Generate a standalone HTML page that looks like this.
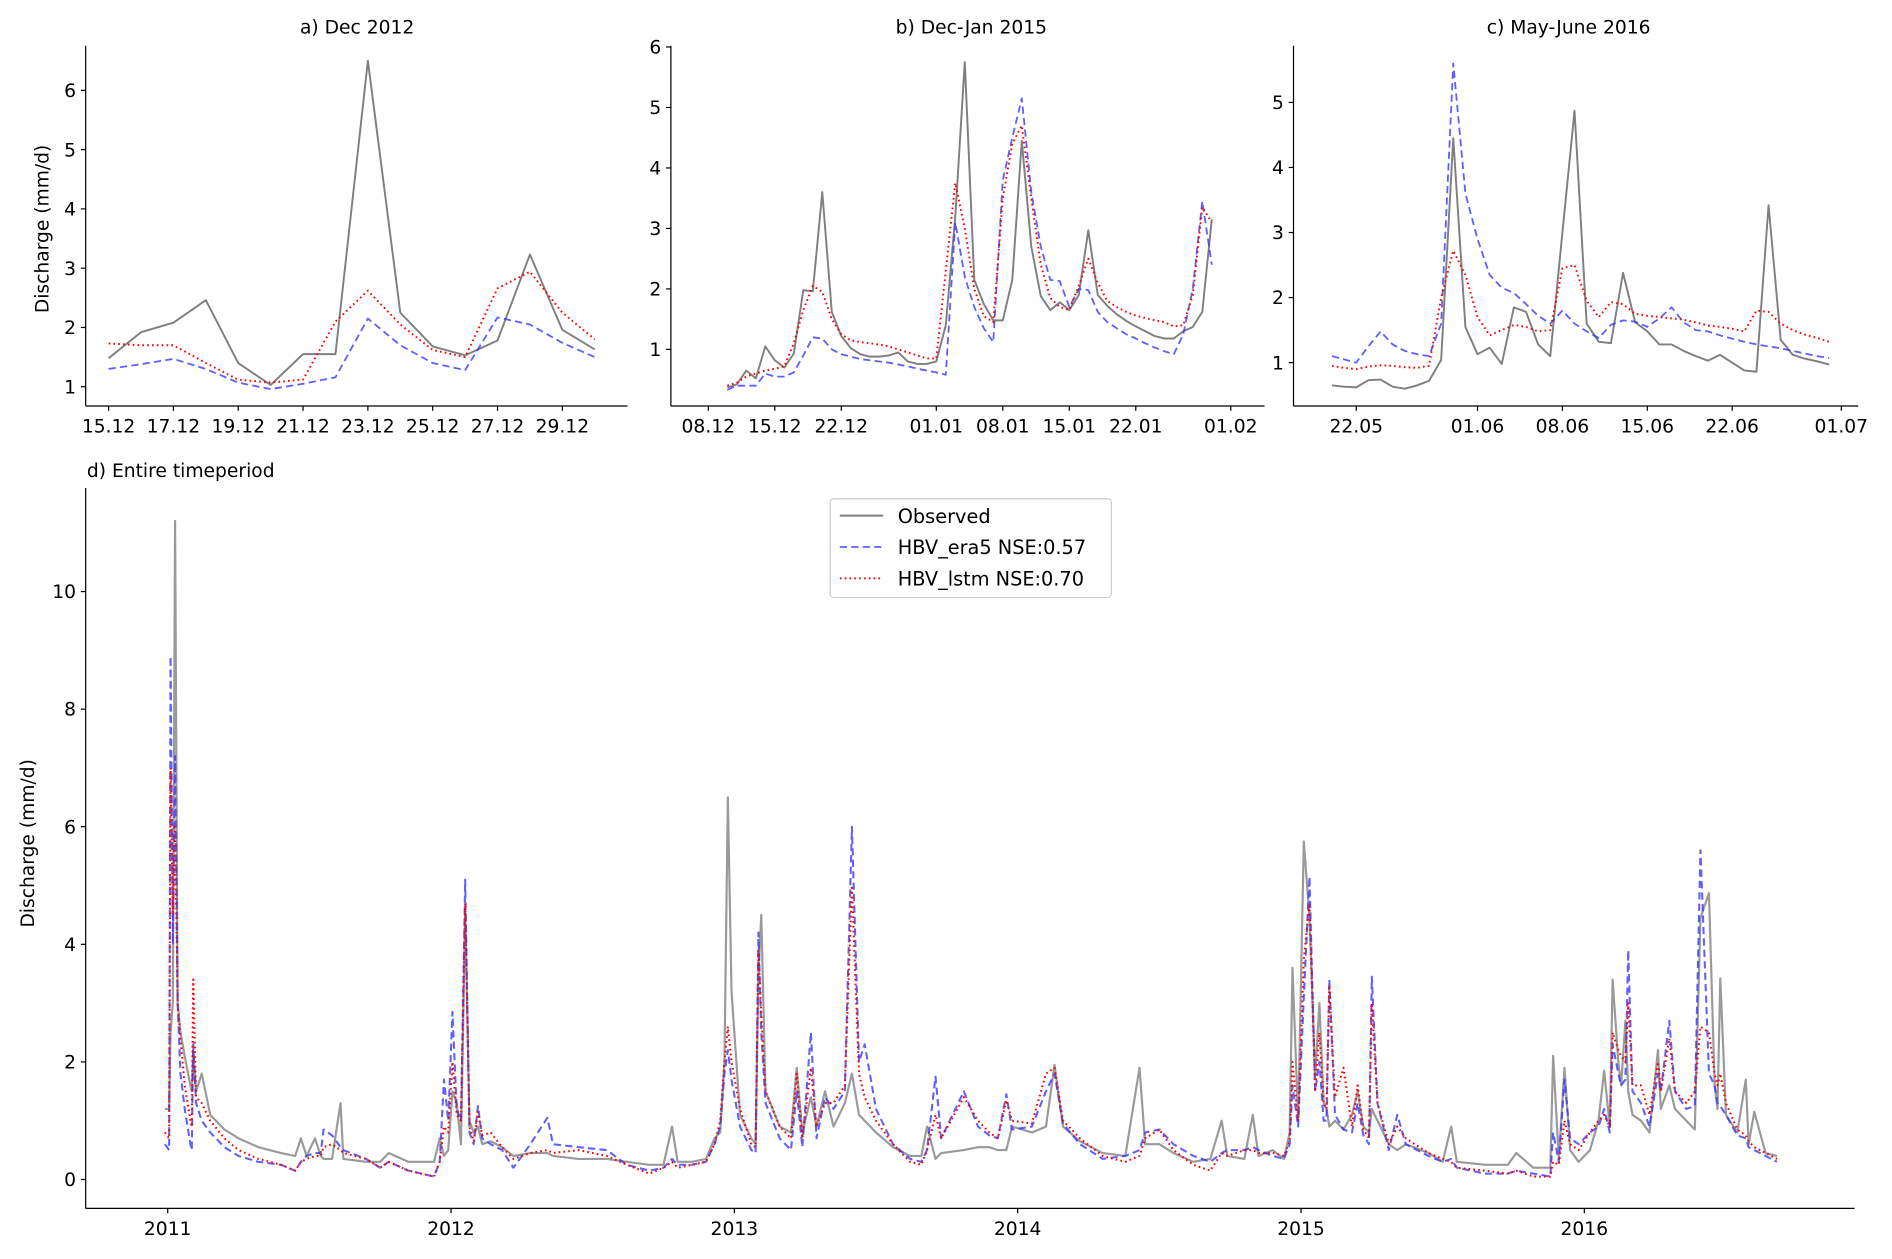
<!DOCTYPE html>
<html><head><meta charset="utf-8"><style>
html,body{margin:0;padding:0;background:#fff}
svg{display:block;font-family:"DejaVu Sans","Liberation Sans",sans-serif}
</style></head><body>
<svg id="fig" width="1892" height="1259" viewBox="0 0 1568 1045" preserveAspectRatio="none" xmlns="http://www.w3.org/2000/svg"></svg>
<script>
// ---- Panel a: Dec 2012 (day offset from 15.12) ----
const aDays=[0,1,2,3,4,5,6,7,8,9,10,11,12,13,14,15];
const aObs=[1.48,1.92,2.08,2.46,1.40,1.03,1.55,1.55,6.5,2.25,1.68,1.53,1.78,3.23,1.96,1.63];
const aEra=[1.30,1.38,1.47,1.30,1.07,0.96,1.05,1.16,2.15,1.70,1.40,1.28,2.17,2.05,1.74,1.50];
const aLstm=[1.73,1.70,1.70,1.40,1.12,1.07,1.12,2.10,2.62,2.05,1.62,1.50,2.66,2.94,2.25,1.80];
const aXTickDays=[0,2,4,6,8,10,12,14];
const aXTickLabels=["15.12","17.12","19.12","21.12","23.12","25.12","27.12","29.12"];
const aYTicks=[1,2,3,4,5,6];
// ---- Panel b: Dec-Jan 2015 (day offset from 08.12) ----
const bObs=[0.37,0.42,0.65,0.52,1.05,0.82,0.70,0.93,1.98,1.96,3.6,1.62,1.22,1.02,0.92,0.88,0.88,0.90,0.95,0.80,0.76,0.76,0.80,1.40,3.2,5.75,2.15,1.75,1.48,1.48,2.15,4.45,2.7,1.88,1.65,1.78,1.65,1.90,2.97,1.90,1.72,1.58,1.47,1.38,1.30,1.22,1.18,1.18,1.30,1.37,1.62,3.15];
const bEra=[0.33,0.40,0.40,0.40,0.60,0.55,0.55,0.62,0.90,1.20,1.18,1.00,0.92,0.88,0.84,0.82,0.80,0.78,0.75,0.72,0.68,0.65,0.62,0.58,3.1,2.2,1.70,1.35,1.12,3.8,4.5,5.15,3.6,2.7,2.15,2.13,1.70,2.00,1.98,1.62,1.45,1.35,1.25,1.18,1.10,1.03,0.97,0.92,1.25,2.0,3.45,2.40];
const bLstm=[0.40,0.45,0.55,0.60,0.65,0.68,0.72,1.10,1.65,2.05,1.95,1.50,1.25,1.15,1.12,1.10,1.08,1.05,1.0,0.95,0.90,0.85,0.85,2.30,3.75,3.0,2.00,1.55,1.45,3.5,4.4,4.70,3.5,2.4,1.85,1.70,1.65,2.05,2.50,2.10,1.80,1.70,1.62,1.56,1.52,1.48,1.45,1.38,1.40,1.90,3.35,3.10];
const bStartDay=2;
const bXTickDays=[0,7,14,24,31,38,45,55];
const bXTickLabels=["08.12","15.12","22.12","01.01","08.01","15.01","22.01","01.02"];
const bYTicks=[1,2,3,4,5,6];
// ---- Panel c: May-June 2016 (day offset from 22.05) ----
const cObs=[0.65,0.63,0.62,0.73,0.74,0.63,0.60,0.65,0.72,1.04,4.45,1.55,1.13,1.23,0.98,1.85,1.78,1.28,1.10,3.0,4.87,1.60,1.32,1.30,2.38,1.62,1.48,1.28,1.28,1.18,1.10,1.03,1.12,1.00,0.88,0.86,3.42,1.35,1.12,1.06,1.02,0.97];
const cEra=[1.10,1.05,1.00,1.25,1.48,1.28,1.18,1.13,1.10,1.60,5.6,3.6,2.9,2.35,2.15,2.07,1.90,1.72,1.60,1.80,1.60,1.48,1.38,1.58,1.65,1.63,1.55,1.68,1.85,1.62,1.50,1.48,1.42,1.37,1.32,1.28,1.25,1.22,1.18,1.14,1.10,1.07];
const cLstm=[0.95,0.92,0.90,0.94,0.96,0.95,0.93,0.92,0.95,2.0,2.72,2.35,1.70,1.42,1.50,1.58,1.55,1.48,1.50,2.45,2.50,1.95,1.70,1.93,1.90,1.75,1.72,1.70,1.68,1.66,1.62,1.57,1.55,1.52,1.48,1.80,1.78,1.60,1.50,1.43,1.38,1.32];
const cStartDay=-2;
const cXTickDays=[0,10,17,24,31,40];
const cXTickLabels=["22.05","01.06","08.06","15.06","22.06","01.07"];
const cYTicks=[1,2,3,4,5];
// ---- Panel d: entire period (years since 2011-01-01) ----
const dT=[-0.01,0.005,0.010,0.018,0.026,0.035,0.045,0.06,0.08,0.085,0.09,0.10,0.12,0.15,0.2,0.25,0.32,0.4,0.45,0.47,0.49,0.52,0.54,0.55,0.58,0.61,0.62,0.7,0.75,0.78,0.85,0.94,0.96,0.975,0.99,1.005,1.02,1.035,1.05,1.065,1.08,1.095,1.11,1.14,1.18,1.22,1.28,1.34,1.36,1.45,1.55,1.62,1.7,1.75,1.78,1.80,1.85,1.9,1.93,1.95,1.965,1.977,1.99,2.02,2.06,2.075,2.085,2.095,2.11,2.16,2.20,2.22,2.24,2.27,2.29,2.32,2.35,2.39,2.415,2.44,2.46,2.5,2.56,2.62,2.66,2.68,2.71,2.73,2.81,2.86,2.9,2.93,2.96,2.98,3.05,3.10,3.13,3.16,3.22,3.3,3.38,3.43,3.45,3.5,3.55,3.62,3.68,3.72,3.74,3.8,3.83,3.85,3.9,3.94,3.96,3.97,3.99,4.01,4.03,4.05,4.065,4.08,4.09,4.1,4.12,4.15,4.18,4.2,4.22,4.24,4.25,4.27,4.31,4.34,4.37,4.45,4.5,4.53,4.55,4.65,4.73,4.76,4.82,4.88,4.89,4.91,4.93,4.95,4.98,5.02,5.05,5.07,5.09,5.10,5.12,5.13,5.145,5.155,5.17,5.2,5.23,5.26,5.27,5.30,5.32,5.36,5.39,5.41,5.44,5.46,5.47,5.48,5.50,5.54,5.57,5.58,5.6,5.64,5.68];
const dObs=[1.2,1.2,2.5,3.0,11.2,3.0,2.5,2.1,1.6,1.5,2.2,1.5,1.8,1.1,0.85,0.7,0.55,0.45,0.4,0.7,0.4,0.7,0.4,0.35,0.35,1.3,0.35,0.3,0.3,0.45,0.3,0.3,0.7,0.4,0.5,1.5,1.3,0.6,4.6,1.0,0.8,0.9,0.6,0.65,0.55,0.4,0.45,0.45,0.4,0.35,0.35,0.3,0.25,0.25,0.9,0.3,0.3,0.35,0.7,0.8,2.0,6.5,3.2,1.1,0.7,0.6,3.5,4.5,1.5,0.9,0.8,1.9,0.8,1.4,0.9,1.5,0.9,1.3,1.8,1.1,1.0,0.8,0.55,0.4,0.4,0.9,0.35,0.45,0.5,0.55,0.55,0.5,0.5,0.9,0.8,0.9,1.95,0.9,0.65,0.45,0.4,1.9,0.6,0.6,0.45,0.3,0.35,1.0,0.4,0.35,1.1,0.4,0.5,0.35,0.8,3.6,1.0,5.75,4.45,1.75,3.0,1.3,1.2,0.9,1.0,0.85,1.1,1.5,0.9,0.8,1.2,1.0,0.6,0.5,0.6,0.45,0.3,0.9,0.3,0.25,0.25,0.45,0.2,0.2,2.1,0.35,1.9,0.5,0.3,0.5,1.0,1.85,0.9,3.4,2.0,1.6,2.7,1.5,1.1,1.0,0.8,2.2,1.2,1.6,1.2,1.0,0.85,4.45,4.87,1.6,1.2,3.42,1.1,0.8,1.7,0.6,1.15,0.45,0.4];
const dEra=[0.6,0.5,8.9,4.0,7.2,3.0,1.8,1.2,0.6,0.5,2.3,1.3,1.0,0.8,0.55,0.4,0.3,0.25,0.15,0.3,0.4,0.45,0.45,0.85,0.75,0.55,0.5,0.35,0.2,0.3,0.15,0.05,0.3,1.7,1.0,2.85,1.2,1.0,5.1,0.8,0.6,1.25,0.7,0.6,0.5,0.2,0.6,1.05,0.6,0.55,0.5,0.25,0.15,0.2,0.35,0.25,0.25,0.3,0.6,0.9,1.8,2.2,1.7,0.9,0.5,0.45,4.2,2.5,1.3,0.7,0.5,1.5,0.55,2.5,0.7,1.4,1.2,1.5,6.0,2.0,2.3,1.2,0.6,0.35,0.3,0.5,1.75,0.7,1.5,0.9,0.75,0.7,1.45,0.85,0.9,1.5,1.8,0.95,0.6,0.35,0.4,0.5,0.8,0.85,0.6,0.4,0.3,0.45,0.5,0.5,0.55,0.5,0.4,0.35,0.6,1.6,0.9,3.1,5.15,1.5,2.0,1.0,1.0,3.4,1.1,0.85,0.8,1.3,0.75,0.6,3.45,1.3,0.5,1.1,0.6,0.4,0.3,0.35,0.2,0.1,0.1,0.15,0.1,0.05,0.8,0.3,1.7,0.7,0.6,0.8,0.9,1.2,0.8,2.3,1.8,1.6,1.7,3.9,1.5,1.3,0.9,1.8,1.5,2.7,1.5,1.2,1.25,5.6,1.8,1.6,1.3,1.25,1.1,0.75,0.7,0.55,0.5,0.4,0.3];
const dLstm=[0.8,0.7,7.0,4.5,6.0,3.0,2.4,1.6,1.0,0.9,3.4,1.4,1.3,1.0,0.7,0.5,0.35,0.25,0.15,0.3,0.35,0.4,0.4,0.55,0.6,0.5,0.45,0.35,0.2,0.3,0.15,0.05,0.3,0.9,0.8,2.0,1.1,1.0,4.7,0.9,0.65,1.15,0.75,0.8,0.55,0.35,0.45,0.5,0.45,0.5,0.4,0.25,0.1,0.2,0.3,0.2,0.25,0.3,0.6,1.0,2.0,2.6,2.0,1.2,0.6,0.55,3.9,2.8,1.5,0.9,0.7,1.8,0.7,1.9,0.9,1.3,1.3,1.6,5.0,1.8,1.4,1.0,0.6,0.3,0.25,0.5,1.1,0.7,1.4,1.0,0.8,0.7,1.35,1.0,0.95,1.8,1.9,1.0,0.7,0.4,0.3,0.4,0.7,0.85,0.5,0.25,0.15,0.45,0.4,0.5,0.5,0.45,0.45,0.4,0.65,2.0,1.0,3.75,4.7,1.5,2.5,1.3,1.2,3.3,1.4,1.9,0.9,1.6,0.85,0.7,3.0,1.3,0.6,0.9,0.7,0.45,0.35,0.3,0.2,0.15,0.1,0.15,0.05,0.05,0.3,0.25,1.0,0.6,0.5,0.8,1.0,1.1,0.9,2.5,2.2,2.1,2.0,3.0,1.6,1.6,1.1,2.0,1.5,2.4,1.5,1.3,1.5,2.6,2.5,1.8,1.6,1.8,1.3,0.85,0.75,0.65,0.55,0.45,0.35];
const dXTickYears=[0,1,2,3,4,5];
const dXTickLabels=["2011","2012","2013","2014","2015","2016"];
const dYTicks=[0,2,4,6,8,10];

const NS="http://www.w3.org/2000/svg";
const svg=document.getElementById('fig');
function mk(tag,attrs,parent){const e=document.createElementNS(NS,tag);for(const k in attrs)e.setAttribute(k,attrs[k]);(parent||svg).appendChild(e);return e;}
function txt(x,y,s,anchor,size,parent,rot){const t=mk('text',{x:x,y:y,'text-anchor':anchor,'font-size':size,fill:'#000'},parent);if(rot)t.setAttribute('transform','rotate(-90 '+x+' '+y+')');t.textContent=s;return t;}
const OBS='#7f7f7f', ERA='rgba(50,50,255,0.78)', LSTM='#ff0000';
function series(xs,ys,xf,yf,kind,g,w){
  const pts=xs.map((x,i)=>xf(x).toFixed(2)+','+yf(ys[i]).toFixed(2)).join(' ');
  const a={points:pts,fill:'none','stroke-linejoin':'round'};
  if(kind==='obs'){a.stroke=g.obsColor||OBS;a['stroke-width']=w||1.6;}
  if(kind==='era'){a.stroke=ERA;a['stroke-width']=w||1.5;a['stroke-dasharray']='6,3.5';}
  if(kind==='lstm'){a.stroke=LSTM;a['stroke-width']=w||1.6;a['stroke-dasharray']='1.4,2.6';}
  return mk('polyline',a,g);
}
function axes(g,left,right,top,bottom,xt,xl,xf,yt,yf){
  mk('line',{x1:left,y1:top,x2:left,y2:bottom,stroke:'#000','stroke-width':1},g);
  mk('line',{x1:left,y1:bottom,x2:right,y2:bottom,stroke:'#000','stroke-width':1},g);
  xt.forEach((d,i)=>{const x=xf(d);mk('line',{x1:x,y1:bottom,x2:x,y2:bottom+4,stroke:'#000','stroke-width':1},g);txt(x,bottom+22,xl[i],'middle',15.5,g);});
  yt.forEach(v=>{const y=yf(v);mk('line',{x1:left-4,y1:y,x2:left,y2:y,stroke:'#000','stroke-width':1},g);txt(left-8,y+5.5,String(v),'end',15.5,g);});
}
// Panel a
const ga=mk('g',{});

const xa=d=>90+d*26.86, ya=v=>321-(v-1)*49.2;
axes(ga,71,520,38,337,aXTickDays,aXTickLabels,xa,aYTicks,ya);
txt(296,28,'a) Dec 2012','middle',15.5,ga);
txt(40,190,'Discharge (mm/d)','middle',15.5,ga,true);
series(aDays,aObs,xa,ya,'obs',ga);
series(aDays,aEra,xa,ya,'era',ga);
series(aDays,aLstm,xa,ya,'lstm',ga);
// Panel b
const gb=mk('g',{});

const xb=d=>587+d*7.873, yb=v=>290-(v-1)*50.2;
axes(gb,556,1048,38,337,bXTickDays,bXTickLabels,xb,bYTicks,yb);
txt(805,28,'b) Dec-Jan 2015','middle',15.5,gb);
const bDays=bObs.map((_,i)=>bStartDay+i);
series(bDays,bObs,xb,yb,'obs',gb);
series(bDays,bEra,xb,yb,'era',gb);
series(bDays,bLstm,xb,yb,'lstm',gb);
// Panel c
const gc=mk('g',{});

const xc=d=>1124+d*10.05, yc=v=>301-(v-1)*54;
axes(gc,1072,1540,38,337,cXTickDays,cXTickLabels,xc,cYTicks,yc);
txt(1300,28,'c) May-June 2016','middle',15.5,gc);
const cDays=cObs.map((_,i)=>cStartDay+i);
series(cDays,cObs,xc,yc,'obs',gc);
series(cDays,cEra,xc,yc,'era',gc);
series(cDays,cLstm,xc,yc,'lstm',gc);
// Panel d
const gd=mk('g',{});

gd.obsColor='#9a9a9a';
const xd=t=>139+t*234.8, yd=v=>979-v*48.8;
axes(gd,71,1537,405,1003,dXTickYears,dXTickLabels,xd,dYTicks,yd);
txt(72,396,'d) Entire timeperiod','start',15.5,gd);
txt(28,700,'Discharge (mm/d)','middle',15.5,gd,true);
series(dT,dObs,xd,yd,'obs',gd,1.8);
series(dT,dEra,xd,yd,'era',gd,1.7);
series(dT,dLstm,xd,yd,'lstm',gd,1.7);
// Legend
const gl=mk('g',{});

mk('rect',{x:688,y:414,width:233,height:82,rx:3,fill:'#fff',stroke:'#ccc','stroke-width':1},gl);
const le=[['obs','Observed'],['era','HBV_era5 NSE:0.57'],['lstm','HBV_lstm NSE:0.70']];
le.forEach((e,i)=>{
  const y=428+i*26;
  const row=mk('g',{},gl);
  
  
  series([0,1],[0,0],u=>696+u*36,()=>y,e[0],row);
  txt(744,y+6,e[1],'start',16,row);
});
</script>
</body></html>
